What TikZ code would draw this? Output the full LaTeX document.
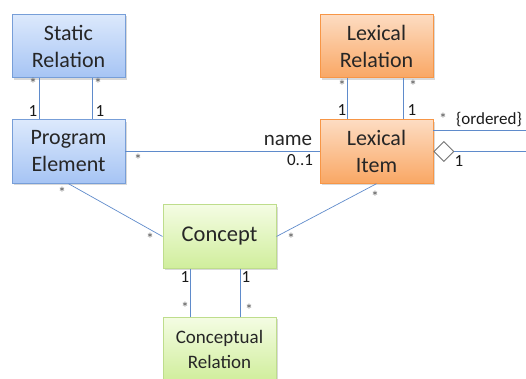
\documentclass[tikz,border=0pt]{standalone}
\usepackage{fontspec}
\setmainfont{Carlito}
\usetikzlibrary{shapes.geometric,shadows}
\definecolor{bluetop}{HTML}{DCE9FC}
\definecolor{bluebot}{HTML}{A6C4F4}
\definecolor{blueline}{HTML}{779ED8}
\definecolor{orgtop}{HTML}{FDDCC2}
\definecolor{orgbot}{HTML}{F9A764}
\definecolor{orgline}{HTML}{F79646}
\definecolor{grntop}{HTML}{F4FCE3}
\definecolor{grnbot}{HTML}{D0EE9C}
\definecolor{grnline}{HTML}{BEDD8C}
\definecolor{conn}{HTML}{5F8BCB}
\definecolor{txt}{HTML}{262626}
\definecolor{star}{HTML}{5A5A5A}
\tikzset{
  cls/.style={draw, line width=0.9pt, minimum width=113pt, minimum height=63.5pt,
    inner sep=0pt, align=center, text=txt, font=\fontsize{22}{27}\selectfont,
    drop shadow={shadow xshift=1.5pt, shadow yshift=-1.8pt, opacity=0.25, fill=black!60}},
  bluecls/.style={cls, draw=blueline, top color=bluetop, bottom color=bluebot},
  orgcls/.style={cls, draw=orgline, top color=orgtop, bottom color=orgbot},
  grncls/.style={cls, draw=grnline, top color=grntop, bottom color=grnbot},
  link/.style={draw=conn, line width=0.7pt},
  one/.style={font=\fontsize{17}{17}\selectfont, text=black!90, inner sep=0pt},
  many/.style={font=\fontsize{16}{16}\selectfont, text=star, inner sep=0pt},
  lbl/.style={font=\fontsize{21}{21}\selectfont, text=txt, inner sep=0pt},
}
\begin{document}
\begin{tikzpicture}[x=1pt,y=-1pt]
\useasboundingbox (0,0) rectangle (526,379);
\begin{scope}
\clip (0,0) rectangle (526,379);
% classes
\node[bluecls] (sr) at (68.5,46) {Static\\Relation};
\node[bluecls] (pe) at (68.5,151.5) {Program\\Element};
\node[orgcls] (lr) at (376.5,46) {Lexical\\Relation};
\node[orgcls] (li) at (376.5,151.5) {Lexical\\Item};
\node[grncls] (co) at (219.5,236.5) {\fontsize{22.5}{27}\selectfont Concept};
\node[grncls, font=\fontsize{19}{25}\selectfont] (cr) at (219.5,349) {Conceptual\\Relation};
% free ends
\coordinate (r1) at (526,130);
\coordinate (r2) at (526,151.5);
% Static Relation -- Program Element
\draw[link] ([xshift=28pt]sr.south west) -- ([xshift=28pt]pe.north west);
\draw[link] ([xshift=81pt]sr.south west) -- ([xshift=81pt]pe.north west);
\node[many] (m1) at (33,84) {*};
\node[one] (o1) at (33,111) {1};
\node[many] (m2) at (98,84) {*};
\node[one] (o2) at (100,111) {1};
% Lexical Relation -- Lexical Item
\draw[link] ([xshift=28pt]lr.south west) -- ([xshift=28pt]li.north west);
\draw[link] ([xshift=84pt]lr.south west) -- ([xshift=84pt]li.north west);
\node[many] (m3) at (342,86) {*};
\node[one] (o3) at (342,110) {1};
\node[many] (m4) at (413,86) {*};
\node[one] (o4) at (412,110) {1};
% Program Element -- Lexical Item
\draw[link] (pe.east) -- (li.west);
\node[many] (m5) at (138,160) {*};
\node[lbl] (nm) at (288,140) {name};
\node[one] (o5) at (300,160) {0..1};
% Lexical Item ordered
\draw[link] ([yshift=21.5pt]li.east) -- (r1);
\node[many] (m6) at (443,119) {*};
\node[one, font=\fontsize{17}{17}\selectfont] (ord) at (489,120) {\{ordered\}};
% aggregation
\node[diamond, draw=black!55, fill=white, line width=0.8pt, minimum width=20pt, minimum height=20pt, inner sep=0pt, anchor=west] (dm) at (li.east) {};
\draw[link] (dm.east) -- (r2);
\node[one] (o6) at (459,161) {1};
% Program Element -- Concept
\draw[link] (pe.south) -- (co.west);
\node[many] (m7) at (62,193) {*};
\node[many] (m8) at (150,239) {*};
% Lexical Item -- Concept
\draw[link] (li.south) -- (co.east);
\node[many] (m9) at (375,197) {*};
\node[many] (m10) at (291,239) {*};
% Concept -- Conceptual Relation
\draw[link] ([xshift=28pt]co.south west) -- ([xshift=28pt]cr.north west);
\draw[link] ([xshift=78pt]co.south west) -- ([xshift=78pt]cr.north west);
\node[one] (o7) at (185,277) {1};
\node[one] (o8) at (246,277) {1};
\node[many] (m11) at (185,308) {*};
\node[many] (m12) at (249,310) {*};
\end{scope}
\end{tikzpicture}
\end{document}
